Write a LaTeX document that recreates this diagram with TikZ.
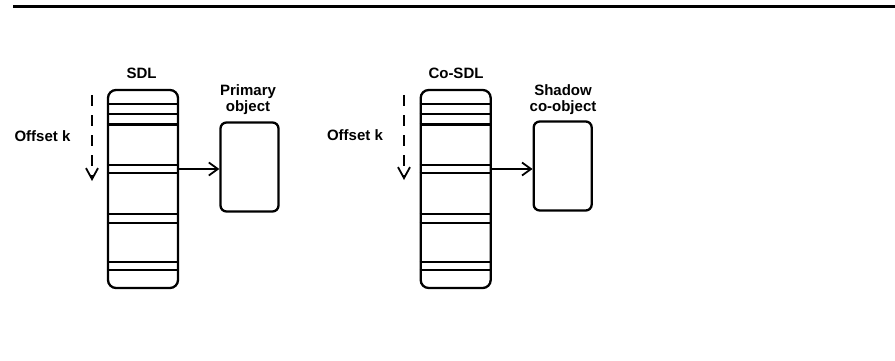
\documentclass[tikz,border=0pt]{standalone}
\usepackage{fontspec}
\setmainfont{Liberation Sans}
\usetikzlibrary{arrows.meta}
\tikzset{
  col/.style={draw, line width=2.3pt, rounded corners=8pt, minimum width=70pt, minimum height=198pt, inner sep=0pt},
  objbox/.style={draw, line width=2.3pt, rounded corners=6pt, minimum width=58pt, minimum height=89pt, inner sep=0pt},
  stripe/.style={line width=2.1pt},
  lbl/.style={font=\fontsize{15}{16.5}\selectfont\bfseries, inner sep=0pt, align=center},
  ptr/.style={line width=1.8pt, -{Straight Barb[length=9pt,width=13pt,line width=1.8pt]}},
  offarrow/.style={line width=2pt, dash pattern=on 11pt off 9pt, -{Straight Barb[length=11pt,width=12pt,line width=1.8pt]}},
  rule/.style={line width=2.2pt}
}
\begin{document}
\begin{tikzpicture}[x=1pt,y=-1pt]
\useasboundingbox (0,0) rectangle (895,361);
% top rule
\coordinate (ruleL) at (13,6.5);
\coordinate (ruleR) at (895,6.5);
\draw[rule] (ruleL) -- (ruleR);

% ---- left group
\node[col] (sdl) at (143,189) {};
\node[lbl] (sdllbl) at (141.5,73.5) {SDL};
\foreach \yy in {104,114,124.5,164.7,173.3,214,223,261.7,270}
  \draw[stripe] (sdl.west |- 0,\yy) -- (sdl.east |- 0,\yy);
\node[objbox] (prim) at (249.5,167) {};
\node[lbl] (primlbl) at (248,99.5) {Primary\\object};
\draw[ptr] (sdl.east |- 0,169) -- (prim.west |- 0,169);
\node[lbl] (off1) at (42.5,136) {Offset k};
\coordinate (d1s) at (92,95);
\coordinate (d1e) at (92,181);
\draw[offarrow] (d1s) -- (d1e);

% ---- right group
\node[col] (cosdl) at (455.7,189) {};
\node[lbl] (cosdllbl) at (456,73.5) {Co-SDL};
\foreach \yy in {104,114,124.5,164.7,173.3,214,223,261.7,270}
  \draw[stripe] (cosdl.west |- 0,\yy) -- (cosdl.east |- 0,\yy);
\node[objbox] (shad) at (562.7,166) {};
\node[lbl] (shadlbl) at (563,99.5) {Shadow\\co-object};
\draw[ptr] (cosdl.east |- 0,169) -- (shad.west |- 0,169);
\node[lbl] (off2) at (355,135.5) {Offset k};
\coordinate (d2s) at (404,95);
\coordinate (d2e) at (404,180);
\draw[offarrow] (d2s) -- (d2e);
\end{tikzpicture}
\end{document}
